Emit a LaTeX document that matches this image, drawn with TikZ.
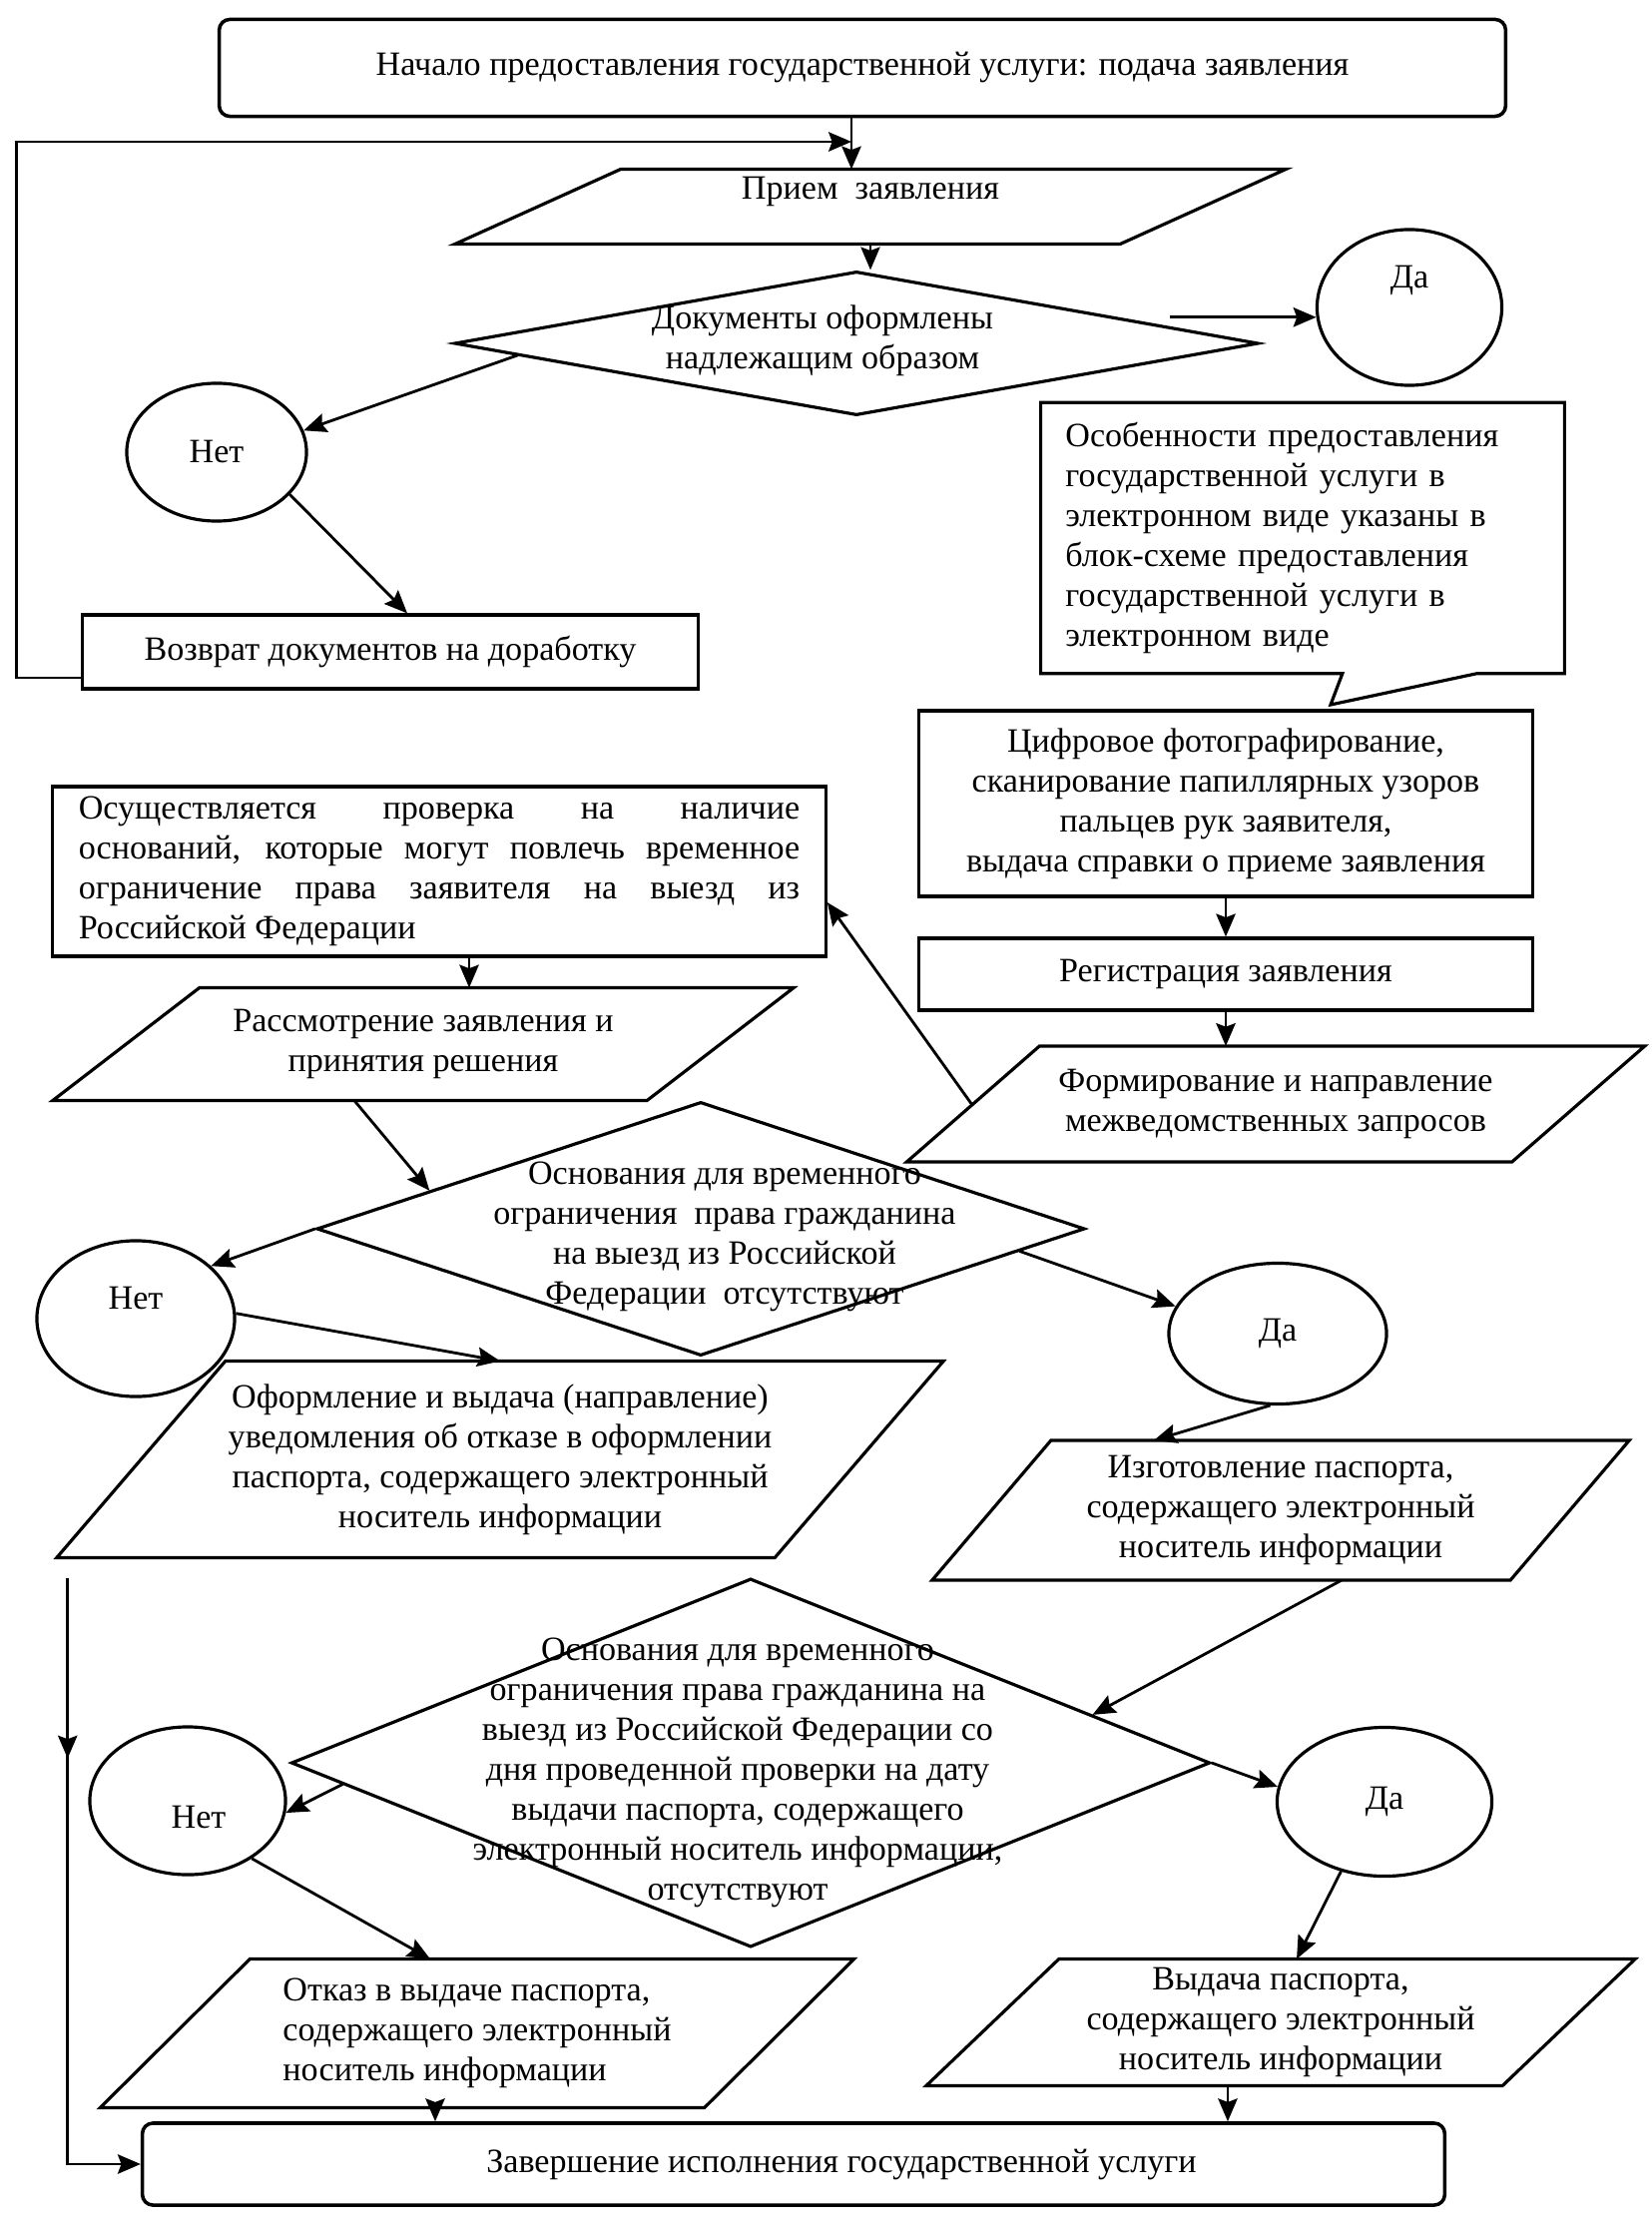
\documentclass[tikz,border=0pt]{standalone}
\usepackage{fontspec}
\setmainfont{Liberation Serif}
\usepackage{tikz}
\usetikzlibrary{shapes.geometric,arrows.meta,positioning,calc}

\begin{document}
\begin{tikzpicture}[
    x=0.01cm, y=-0.01cm,
    font=\fontsize{9.7}{11.4}\selectfont,
    % Shapes of the flow chart
    startbox/.style={rectangle, draw, line width=1pt, rounded corners=3pt, inner sep=0pt},
    stepbox/.style={rectangle, draw, line width=0.9pt, align=center, inner sep=0pt},
    answer/.style={ellipse, draw, line width=0.9pt, inner sep=0pt},
    decision/.style={diamond, draw, line width=0.9pt, inner sep=0pt},
    para/.style={rectangle, align=center, inner sep=0pt, outer sep=0pt,
        append after command={\pgfextra{\let\paranode\tikzlastnode
            \draw[line width=0.9pt] (\paranode.south west) -- ([xshift=#1]\paranode.north west)
                -- (\paranode.north east) -- ([xshift=-#1]\paranode.south east) -- cycle;}}},
    arr/.style={-{Stealth[length=6.5pt,width=5.5pt,inset=1pt]}, line width=0.8pt}
]
    \path[use as bounding box, fill=white] (0,0) rectangle (1654,2228);

    % --- Reception of the application ---
    \node[startbox, minimum width=12.88cm, minimum height=0.97cm] (start) at (864,68)
        {Начало предоставления государственной услуги: подача заявления};
    \node[para=1.66cm, minimum width=8.32cm, minimum height=0.75cm,
        label={[yshift=0.15cm]center:Прием\ \ заявления}] (priem) at (872,207) {};
    \node[decision, minimum width=8.05cm, minimum height=1.44cm] (check) at (858,344) {};
    \node[align=center] (checktext) at (824,341) {Документы оформлены\\надлежащим образом};
    \node[answer, minimum width=1.85cm, minimum height=1.56cm,
        label={[yshift=0.27cm]center:Да}] (yes1) at (1412,308) {};
    \node[answer, minimum width=1.80cm, minimum height=1.38cm] (no1) at (217,453) {Нет};
    \node[stepbox, minimum width=6.17cm, minimum height=0.74cm] (rework) at (391,653)
        {Возврат документов на доработку};

    % --- Note on the electronic form ---
    \node[align=left, text width=4.75cm, minimum width=5.23cm, minimum height=2.70cm, inner sep=0pt] (note) at (1305,539)
        {Особенности предоставления\\государственной услуги в\\электронном виде указаны в\\блок-схеме предоставления\\государственной услуги в\\электронном виде};
    \coordinate (notetip) at (1333,706);
    \draw[line width=0.9pt] (note.south west) -- (note.north west) -- (note.north east) -- (note.south east)
        -- ([xshift=-0.88cm]note.south east) -- (notetip) -- ([xshift=3.02cm]note.south west) -- cycle;

    % --- Registration and requests ---
    \node[stepbox, minimum width=6.15cm, minimum height=1.86cm] (photo) at (1228,805)
        {Цифровое фотографирование,\\сканирование папиллярных узоров\\пальцев рук заявителя,\\выдача справки о приеме заявления};
    \node[stepbox, minimum width=6.15cm, minimum height=0.72cm] (register) at (1228,976) {Регистрация заявления};
    \node[para=1.33cm, minimum width=7.39cm, minimum height=1.16cm] (requests) at (1278,1106)
        {Формирование и направление\\межведомственных запросов};
    \node[stepbox, minimum width=7.74cm, minimum height=1.70cm, text width=7.22cm, align=justify] (verify) at (440,873)
        {Осуществляется проверка на наличие\linebreak оснований, которые могут повлечь временное\linebreak ограничение права заявителя на выезд из\linebreak Российской Федерации};
    \node[para=1.47cm, minimum width=7.42cm, minimum height=1.13cm] (review) at (424,1046)
        {Рассмотрение заявления и\\принятия решения};

    % --- First decision ---
    \node[decision, minimum width=7.69cm, minimum height=2.54cm] (grounds) at (702,1231) {};
    \node[align=center] (groundstext) at (726,1239)
        {Основания для временного\\ограничения\ \ права гражданина\\на выезд из Российской\\Федерации\ \ отсутствуют};
    \node[answer, minimum width=1.98cm, minimum height=1.56cm,
        label={[yshift=0.21cm]center:Нет}] (no2) at (136,1321) {};
    \node[para=1.69cm, minimum width=8.88cm, minimum height=1.97cm] (notice) at (501,1462)
        {Оформление и выдача (направление)\\уведомления об отказе в оформлении\\паспорта, содержащего электронный\\носитель информации};
    \node[answer, minimum width=2.18cm, minimum height=1.41cm] (yes2) at (1280,1336) {Да};
    \node[para=1.19cm, minimum width=6.98cm, minimum height=1.40cm] (make) at (1283,1513)
        {Изготовление паспорта,\\содержащего электронный\\носитель информации};

    % --- Second decision ---
    \node[decision, minimum width=9.20cm, minimum height=3.69cm] (recheck) at (752,1766) {};
    \node[align=center] (rechecktext) at (739,1776)
        {Основания для временного\\ограничения права гражданина на\\выезд из Российской Федерации со\\дня проведенной проверки на дату\\выдачи паспорта, содержащего\\электронный носитель информации,\\отсутствуют};
    \node[answer, minimum width=1.96cm, minimum height=1.48cm,
        label={[xshift=0.11cm, yshift=-0.16cm]center:Нет}] (no3) at (188,1804) {};
    \node[para=1.50cm, minimum width=7.55cm, minimum height=1.49cm, align=left] (refuse) at (478,2037)
        {Отказ в выдаче паспорта,\\содержащего электронный\\носитель информации};
    \node[answer, minimum width=2.15cm, minimum height=1.49cm] (yes3) at (1387,1805) {Да};
    \node[para=1.33cm, minimum width=7.10cm, minimum height=1.27cm] (issue) at (1283,2026)
        {Выдача паспорта,\\содержащего электронный\\носитель информации};
    \node[startbox, minimum width=13.04cm, minimum height=0.82cm,
        label={[xshift=0.48cm]center:Завершение исполнения государственной услуги}] (finish) at (795,2168) {};

    % --- Connectors ---
    \coordinate (join) at (853,142);
    \draw[arr] (start.south -| join) -- (join |- priem.north);
    \draw[arr] ([yshift=-0.26cm]rework.west) -- ++(-64,0) |- (join);
    \draw[arr, line width=0.5pt] (priem.south) -- (priem.south |- check.north);
    \draw[arr] ([xshift=-0.9cm]check.east |- yes1.186) -- (yes1.186);
    \draw[arr] (check.182) -- (no1.14);
    \draw[arr] (no1.-30) -- ([xshift=0.17cm]rework.north);
    \draw[arr] (photo.south) -- (register.north);
    \draw[arr] (register.south) -- (register.south |- requests.north);
    \draw[arr] ([xshift=0.65cm]requests.west) -- ([yshift=-0.31cm]verify.east);
    \draw[arr] ([xshift=0.3cm]verify.south) -- ([xshift=0.3cm]verify.south |- review.north);
    \draw[arr] ([xshift=-0.69cm]review.south) -- (grounds.172);
    \draw[arr] (grounds.west) -- (no2.35);
    \draw[arr] (no2.3) -- (notice.north);
    \draw[arr] (grounds.-4) -- (yes2.165);
    \draw[arr] (yes2.-96) -- ([xshift=-1.27cm]make.north);
    \draw[arr] ([xshift=0.61cm]make.south) -- (recheck.8);
    \draw[arr] (recheck.183) -- (no3.-7);
    \draw[arr] (no3.-42) -- ([xshift=-0.47cm]refuse.north);
    \draw[arr] (recheck.east) -- (yes3.172);
    \draw[arr] (yes3.-122) -- ([xshift=0.16cm]issue.north);
    \draw[arr] ([xshift=-0.42cm]refuse.south) -- ([xshift=-0.42cm]refuse.south |- finish.north);
    \draw[arr] ([xshift=-0.53cm]issue.south) -- ([xshift=-0.53cm]issue.south |- finish.north);
    \coordinate (bypass) at ($(notice.south west)+(11,20)$);
    \draw[arr] (bypass) -- ++(0,181);
    \draw[arr] (bypass) |- (finish.west);
\end{tikzpicture}
\end{document}
